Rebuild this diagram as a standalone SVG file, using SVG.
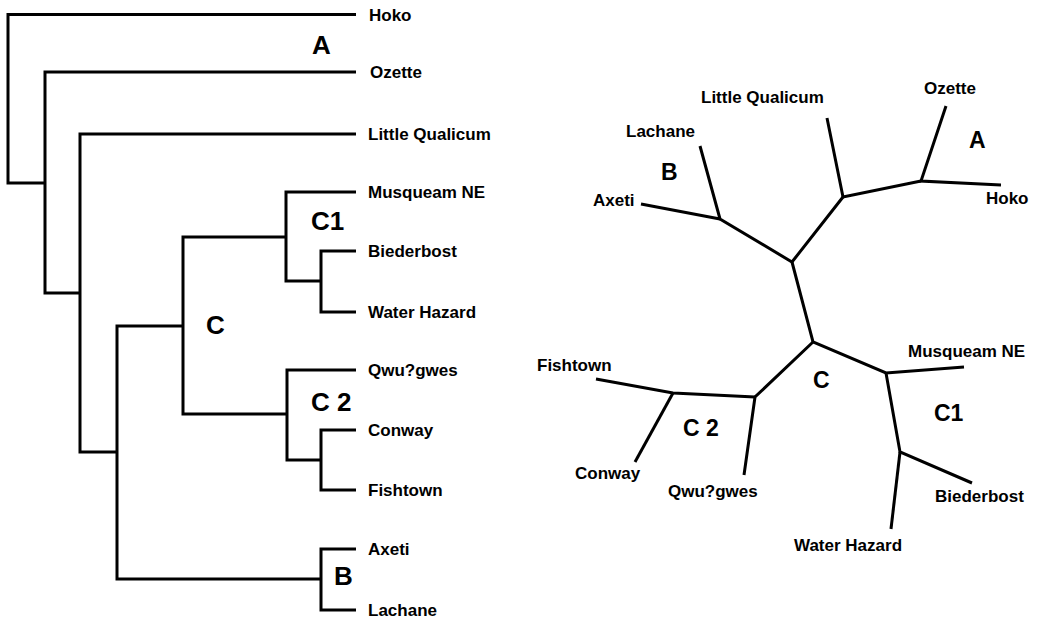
<svg xmlns="http://www.w3.org/2000/svg" width="1039" height="620" viewBox="0 0 1039 620">
<style>
.e{fill:none;stroke:#000;stroke-width:3;stroke-linecap:butt;stroke-linejoin:miter}
.t{font-family:"Liberation Sans",Arial,sans-serif;font-weight:bold;font-size:17px;fill:#000}
.g{font-family:"Liberation Sans",Arial,sans-serif;font-weight:bold;font-size:26px;fill:#000}
.g2{font-family:"Liberation Sans",Arial,sans-serif;font-weight:bold;font-size:23px;fill:#000}
</style>
<rect width="1039" height="620" fill="#fff"/>
<g id="connectors">
<g id="left-tree-edges">
<path class="e" d="M356,14.5H8V183H45"/>
<path class="e" d="M356,72H45V293H80"/>
<path class="e" d="M356,134H80V452H117"/>
<path class="e" d="M356,192H286V281H321"/>
<path class="e" d="M356,251H321V312H356"/>
<path class="e" d="M286,237H183V414H287"/>
<path class="e" d="M183,326H117V579H321"/>
<path class="e" d="M356,370H287V460H321"/>
<path class="e" d="M356,430H321V490H356"/>
<path class="e" d="M356,549H321V610H356"/>
</g>
<g id="right-tree-edges">
<path class="e" d="M946,106L921,181L1001,185"/>
<path class="e" d="M921,181L843,197L827,118"/>
<path class="e" d="M843,197L792,262L720,219L700,146"/>
<path class="e" d="M720,219L641,204"/>
<path class="e" d="M792,262L813,342L886,373L964,367"/>
<path class="e" d="M886,373L900,452L972,483"/>
<path class="e" d="M900,452L891,529"/>
<path class="e" d="M813,342L755,397L744,475"/>
<path class="e" d="M755,397L673,393L596,379"/>
<path class="e" d="M673,393L635,462"/>
</g>
</g>
<g id="left-labels">
<g id="L-hoko"><text class="t" x="369" y="20.5">Hoko</text></g>
<g id="L-ozette"><text class="t" x="370" y="78">Ozette</text></g>
<g id="L-lq"><text class="t" x="368" y="140">Little Qualicum</text></g>
<g id="L-musq"><text class="t" x="368" y="198">Musqueam NE</text></g>
<g id="L-bied"><text class="t" x="368" y="257">Biederbost</text></g>
<g id="L-water"><text class="t" x="368" y="318">Water Hazard</text></g>
<g id="L-qwu"><text class="t" x="368" y="376">Qwu?gwes</text></g>
<g id="L-conway"><text class="t" x="368" y="436">Conway</text></g>
<g id="L-fish"><text class="t" x="368" y="496">Fishtown</text></g>
<g id="L-axeti"><text class="t" x="368" y="555">Axeti</text></g>
<g id="L-lachane"><text class="t" x="368" y="616">Lachane</text></g>
<g id="L-A"><text class="g" x="312" y="54">A</text></g>
<g id="L-C1"><text class="g" x="311" y="230">C1</text></g>
<g id="L-C"><text class="g" x="206" y="334">C</text></g>
<g id="L-C2"><text class="g" x="311" y="411">C 2</text></g>
<g id="L-B"><text class="g" x="334" y="585">B</text></g>
</g>
<g id="right-labels">
<g id="R-hoko"><text class="t" x="986" y="204">Hoko</text></g>
<g id="R-ozette"><text class="t" x="924" y="94">Ozette</text></g>
<g id="R-lq"><text class="t" x="701" y="103">Little Qualicum</text></g>
<g id="R-lachane"><text class="t" x="626" y="137">Lachane</text></g>
<g id="R-axeti"><text class="t" x="593" y="206">Axeti</text></g>
<g id="R-musq"><text class="t" x="908" y="357">Musqueam NE</text></g>
<g id="R-bied"><text class="t" x="935" y="502">Biederbost</text></g>
<g id="R-water"><text class="t" x="794" y="551">Water Hazard</text></g>
<g id="R-qwu"><text class="t" x="668" y="497">Qwu?gwes</text></g>
<g id="R-fish"><text class="t" x="537" y="371">Fishtown</text></g>
<g id="R-conway"><text class="t" x="575" y="479">Conway</text></g>
<g id="R-A"><text class="g2" x="969" y="148">A</text></g>
<g id="R-B"><text class="g2" x="661" y="180">B</text></g>
<g id="R-C1"><text class="g2" x="934" y="421">C1</text></g>
<g id="R-C"><text class="g2" x="813" y="388">C</text></g>
<g id="R-C2"><text class="g2" x="683" y="436">C 2</text></g>
</g>
</svg>
